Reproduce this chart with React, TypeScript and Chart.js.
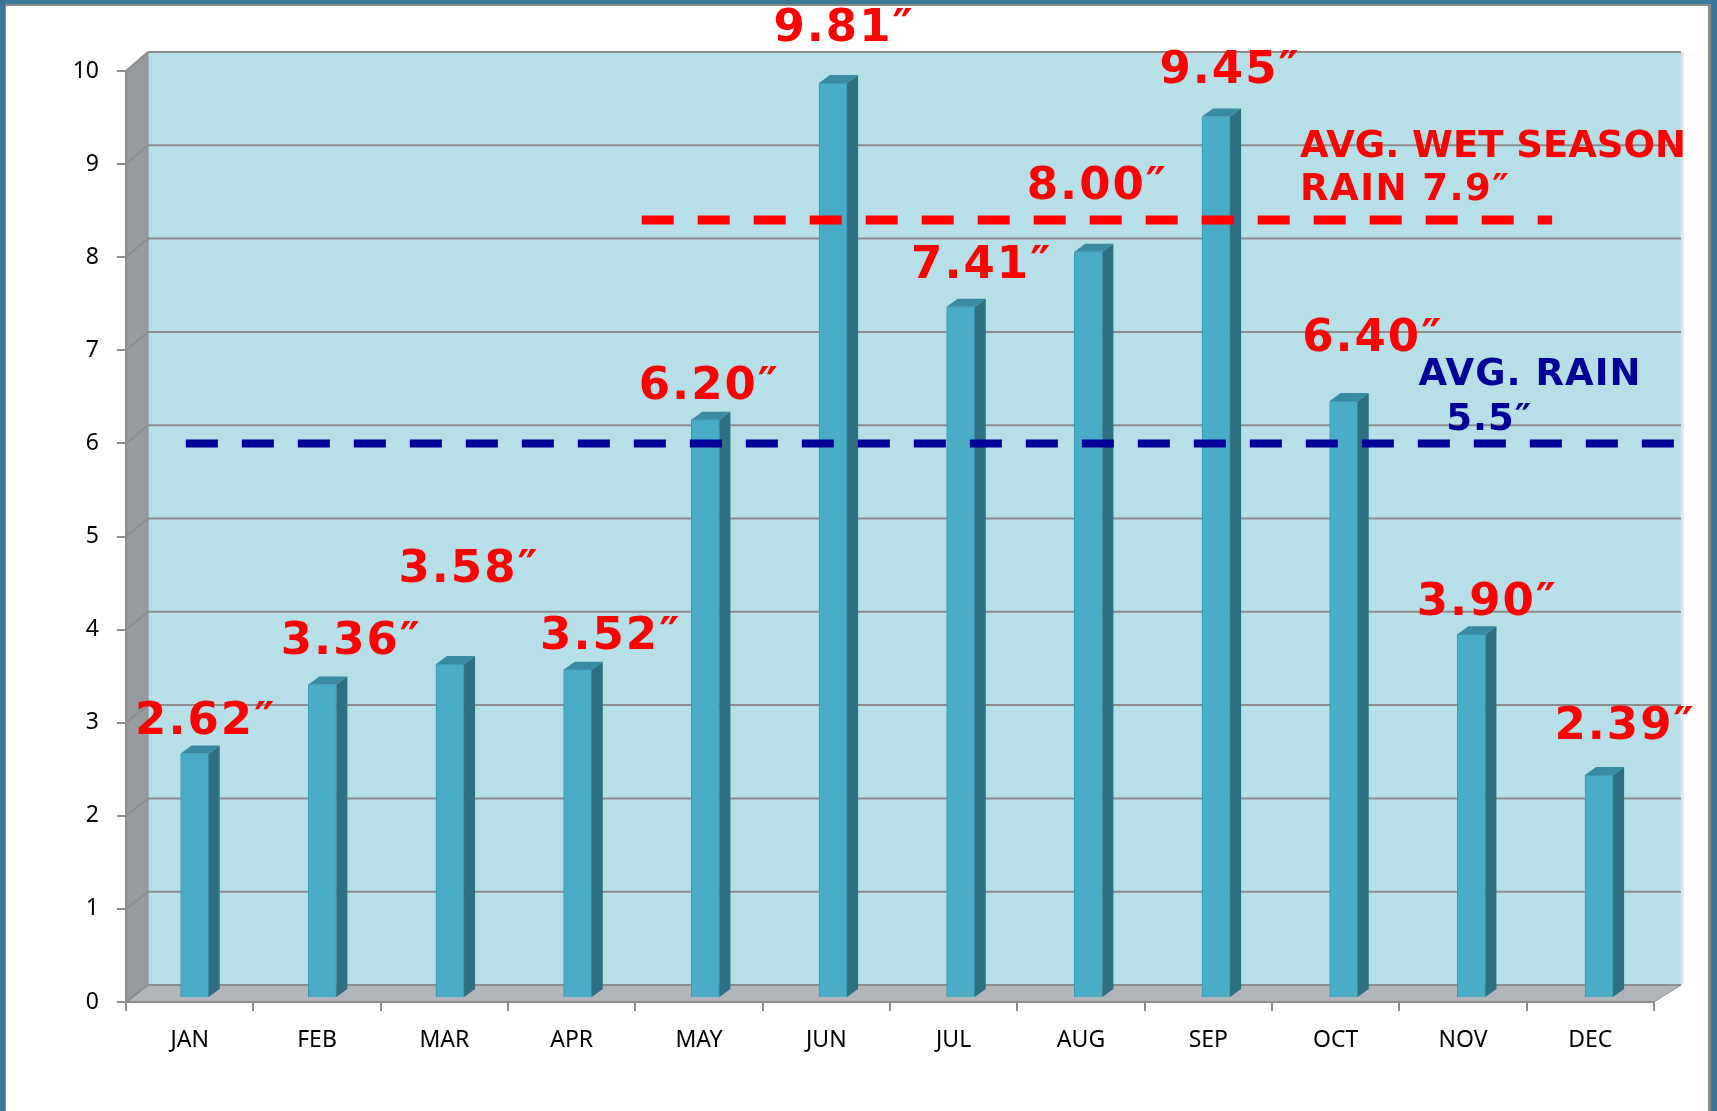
import React, { useEffect, useRef } from 'react';
import { Chart, registerables } from 'chart.js';

Chart.register(...registerables);

// ---------- data ----------
const MONTHS = ['JAN', 'FEB', 'MAR', 'APR', 'MAY', 'JUN', 'JUL', 'AUG', 'SEP', 'OCT', 'NOV', 'DEC'];
const RAINFALL_IN = [2.62, 3.36, 3.58, 3.52, 6.2, 9.81, 7.41, 8.0, 9.45, 6.4, 3.9, 2.39];
const Y_MIN = 0;
const Y_MAX = 10;
const Y_STEP = 1;

// reference lines (level drawn on the value axis, span in category units)
const WET_LINE_LEVEL = 8.4;
const WET_LINE_SPAN = [4.05, 11.2];
const AVG_LINE_LEVEL = 6.0;
const AVG_LINE_SPAN = [0.47, 12.16];
const WET_TEXT = ['AVG. WET SEASON', 'RAIN 7.9\u2033'];
const AVG_TEXT = ['AVG. RAIN', ' 5.5\u2033'];

// ---------- layout / style ----------
const W = 1717;
const H = 1111;
const LABEL_SHIFT_X = [10, 28, 18, 32, 3, 10, 20, 8, 13, 28, 15, 25];
const LABEL_LIFT = [36, 47, 98, 37, 37, 58, 45, 69, 50, 66, 35, 52];
// annotation text anchors in (category units, value units)
const WET_TEXT_POS = [[9.22, 9.08], [9.22, 8.61]];
const WET_TEXT_SPACING = ['0px', '1.5px'];
const AVG_TEXT_POS = [[10.15, 6.63], [10.26, 6.14]];

const BAR_SX = 1.00264, BAR_TX = 4.5, BAR_SY = 1.0019, BAR_TY = -5.9;
const BAR_DX = 11, BAR_DY = -8;

const RED = '#FF0000';
const NAVY = '#000099';

const threeD = {
  id: 'threeD',
  beforeDraw(chart: any) {
    const { ctx, chartArea } = chart;
    const { left: L, right: R, top: T, bottom: B } = chartArea;
    const y = chart.scales.y;
    const back = (px: number, py: number) => [
      px + 22 + (5 * (px - L)) / (R - L),
      py - 17 - (2 * (B - py)) / (B - T),
    ];
    ctx.save();
    ctx.fillStyle = '#FFFFFF';
    ctx.fillRect(0, 0, W, H);
    const poly = (pts: number[][], fill: string, stroke?: string, lw = 1) => {
      ctx.beginPath();
      ctx.moveTo(pts[0][0], pts[0][1]);
      for (let i = 1; i < pts.length; i++) ctx.lineTo(pts[i][0], pts[i][1]);
      ctx.closePath();
      ctx.fillStyle = fill;
      ctx.fill();
      if (stroke) {
        ctx.strokeStyle = stroke;
        ctx.lineWidth = lw;
        ctx.stroke();
      }
    };
    const bTL = back(L, T), bTR = back(R, T), bBR = back(R, B), bBL = back(L, B);
    poly([bTL, bTR, bBR, bBL], '#B7DFE8');
    ctx.strokeStyle = '#D8E6EA';
    ctx.lineWidth = 3;
    ctx.beginPath();
    ctx.moveTo(bTR[0] + 1, bTR[1]);
    ctx.lineTo(bBR[0] + 1, bBR[1]);
    ctx.stroke();
    poly([[L, T], bTL, bBL, [L, B]], '#979BA0', '#8A8E92', 1);
    poly([[L, B], [R, B], bBR, bBL], '#B2B6BA', '#8E9296', 1);
    ctx.strokeStyle = '#8C8C8C';
    ctx.lineWidth = 2;
    for (let v = Y_MIN; v <= Y_MAX; v += Y_STEP) {
      const py = y.getPixelForValue(v);
      const a = back(L, py), b = back(R, py);
      ctx.beginPath();
      ctx.moveTo(a[0], a[1]);
      ctx.lineTo(b[0], b[1]);
      ctx.stroke();
      ctx.beginPath();
      ctx.moveTo(L, py);
      ctx.lineTo(a[0], a[1]);
      ctx.stroke();
    }
    ctx.restore();
  },
  beforeDatasetsDraw(chart: any) {
    const { ctx } = chart;
    ctx.save();
    ctx.transform(BAR_SX, 0, 0, BAR_SY, BAR_TX, BAR_TY);
  },
  afterDatasetsDraw(chart: any) {
    const { ctx } = chart;
    const meta = chart.getDatasetMeta(0);
    meta.data.forEach((bar: any) => {
      const { x, y, base, width } = bar.getProps(['x', 'y', 'base', 'width'], true);
      const l = x - width / 2, r = x + width / 2;
      ctx.beginPath();
      ctx.moveTo(r, y);
      ctx.lineTo(r + BAR_DX, y + BAR_DY);
      ctx.lineTo(r + BAR_DX, base + BAR_DY);
      ctx.lineTo(r, base);
      ctx.closePath();
      ctx.fillStyle = '#2F6F80';
      ctx.fill();
      ctx.beginPath();
      ctx.moveTo(l, y);
      ctx.lineTo(l + BAR_DX, y + BAR_DY);
      ctx.lineTo(r + BAR_DX, y + BAR_DY);
      ctx.lineTo(r, y);
      ctx.closePath();
      ctx.fillStyle = '#3A8AA1';
      ctx.fill();
    });
    ctx.restore();
  },
  afterDraw(chart: any) {
    const { ctx } = chart;
    const xs = chart.scales.x;
    const ys = chart.scales.y;
    const xAt = (u: number) => xs.left + (u * (xs.right - xs.left)) / MONTHS.length;
    ctx.save();
    const dashed = (level: number, span: number[], color: string, lw: number) => {
      const py = ys.getPixelForValue(level);
      ctx.beginPath();
      ctx.setLineDash([32, 24]);
      ctx.lineCap = 'butt';
      ctx.strokeStyle = color;
      ctx.lineWidth = lw;
      ctx.moveTo(xAt(span[0]), py);
      ctx.lineTo(xAt(span[1]), py);
      ctx.stroke();
      ctx.setLineDash([]);
    };
    dashed(WET_LINE_LEVEL, WET_LINE_SPAN, RED, 9);
    dashed(AVG_LINE_LEVEL, AVG_LINE_SPAN, NAVY, 8);

    const meta = chart.getDatasetMeta(0);
    ctx.font = 'bold 45px "DejaVu Sans"';
    (ctx as any).letterSpacing = '2px';
    ctx.fillStyle = RED;
    ctx.textAlign = 'center';
    ctx.textBaseline = 'alphabetic';
    meta.data.forEach((bar: any, i: number) => {
      const { x, y } = bar.getProps(['x', 'y'], true);
      const tx = BAR_SX * x + BAR_TX;
      const ty = BAR_SY * y + BAR_TY;
      const cx = tx + LABEL_SHIFT_X[i] + 1;
      const cy = ty - LABEL_LIFT[i];
      ctx.fillText(RAINFALL_IN[i].toFixed(2) + '\u2033', cx, cy + 16);
    });

    ctx.textAlign = 'left';
    ctx.font = 'bold 37px "DejaVu Sans"';
    ctx.fillStyle = RED;
    WET_TEXT.forEach((t, i) => {
      (ctx as any).letterSpacing = WET_TEXT_SPACING[i];
      ctx.fillText(t, xAt(WET_TEXT_POS[i][0]), ys.getPixelForValue(WET_TEXT_POS[i][1]));
    });
    (ctx as any).letterSpacing = '1px';
    ctx.fillStyle = NAVY;
    AVG_TEXT.forEach((t, i) => {
      ctx.fillText(t, xAt(AVG_TEXT_POS[i][0]), ys.getPixelForValue(AVG_TEXT_POS[i][1]));
    });
    (ctx as any).letterSpacing = '0px';

    ctx.fillStyle = '#8A8A8A';
    ctx.fillRect(0, 0, W, 6);
    ctx.fillRect(W - 9, 0, 3, H);
    ctx.fillRect(0, 0, 6, H);
    ctx.fillStyle = '#3A7898';
    ctx.fillRect(0, 0, W, 4);
    ctx.fillRect(W - 6, 0, 6, H);
    ctx.fillRect(0, 0, 5, H);
    ctx.restore();
  },
};

export default function App() {
  const ref = useRef<HTMLCanvasElement | null>(null);
  useEffect(() => {
    if (!ref.current) return;
    const chart = new Chart(ref.current, {
      type: 'bar',
      data: {
        labels: MONTHS,
        datasets: [
          {
            data: RAINFALL_IN,
            backgroundColor: '#4BACC6',
            borderColor: '#3C97B0',
            borderWidth: 1,
            barThickness: 28,
            clip: false as any,
          },
        ],
      },
      options: {
        responsive: false,
        animation: false,
        events: [],
        layout: { padding: { left: 0, top: 71, right: 63, bottom: 0 } },
        plugins: { legend: { display: false }, tooltip: { enabled: false }, title: { display: false } },
        scales: {
          x: {
            offset: true,
            grid: { drawOnChartArea: false, drawTicks: true, tickLength: 9, color: '#8C8C8C', lineWidth: 2, offset: true },
            border: { display: true, color: '#8C8C8C', width: 2 },
            ticks: { color: '#000', font: { family: 'Noto Sans', size: 23 }, padding: 16, maxRotation: 0 },
            afterFit: (s: any) => {
              s.height = 1111 - 1002;
            },
          },
          y: {
            min: Y_MIN,
            max: Y_MAX,
            grid: { drawOnChartArea: false, drawTicks: true, tickLength: 9, color: '#8C8C8C', lineWidth: 2 },
            border: { display: true, color: '#8C8C8C', width: 2 },
            ticks: { stepSize: Y_STEP, color: '#000', font: { family: 'Noto Sans', size: 23 }, padding: 18 },
            afterFit: (s: any) => {
              s.width = 126;
            },
          },
        },
      },
      plugins: [threeD],
    });
    return () => chart.destroy();
  }, []);
  return (
    <div style={{ position: 'absolute', left: 0, top: 0, width: W, height: H, background: '#fff' }}>
      <canvas ref={ref} width={W} height={H} style={{ display: 'block' }} />
    </div>
  );
}
